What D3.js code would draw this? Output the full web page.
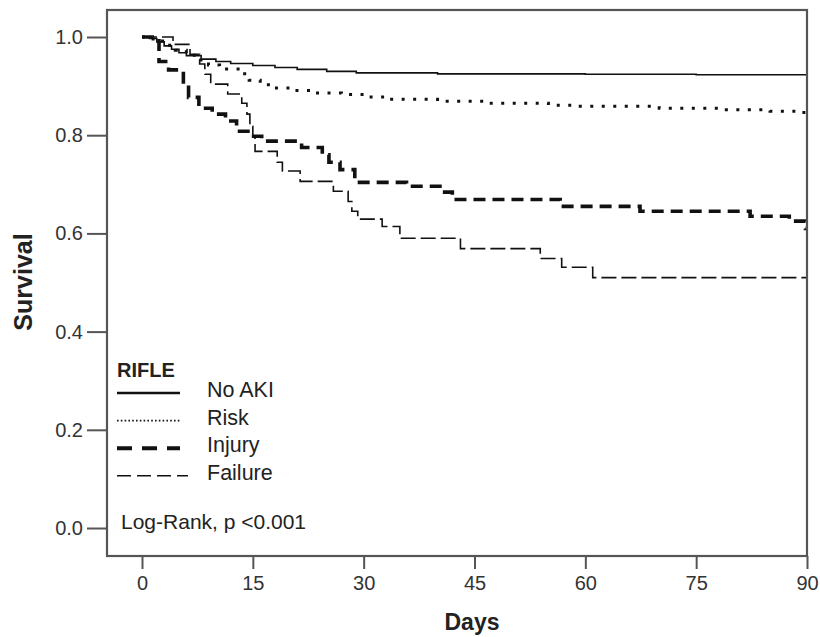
<!DOCTYPE html>
<html>
<head>
<meta charset="utf-8">
<script src="https://cdn.jsdelivr.net/npm/d3@7"></script>
<style>
  body { margin: 0; background: #fff; }
  svg text { font-family: "Liberation Sans", Arial, sans-serif; }
</style>
</head>
<body>
<div id="chart"></div>
<script>
// Kaplan-Meier steps (day, survival)
var noAkiDays = [0, 1, 2, 3, 4, 5, 6, 8, 10, 12, 15, 18, 21, 25, 29, 40, 60, 75, 90];
var noAkiSurv = [1.0, 0.997, 0.99, 0.982, 0.975, 0.968, 0.962, 0.955, 0.95, 0.946, 0.942, 0.938, 0.934, 0.93, 0.927, 0.925, 0.924, 0.923, 0.923];

var riskDays = [0, 1.5, 3, 4.5, 6, 7.5, 9, 10.5, 13.5, 14.5, 16, 17.5, 20, 23, 27, 30, 33, 40, 47, 55, 59, 70, 78, 85, 88.5, 90];
var riskSurv = [1.0, 0.992, 0.983, 0.973, 0.963, 0.953, 0.943, 0.935, 0.925, 0.912, 0.903, 0.896, 0.891, 0.886, 0.883, 0.878, 0.873, 0.869, 0.865, 0.861, 0.859, 0.855, 0.852, 0.849, 0.846, 0.846];

var injuryDays = [0, 2.3, 3.6, 5.6, 6.3, 7.7, 9.5, 11.3, 12.8, 14.7, 16.2, 21.6, 24.4, 25.3, 26.8, 28.8, 35.8, 40.6, 42, 56.6, 67.4, 82.3, 87.6, 89.8, 90];
var injurySurv = [1.0, 0.95, 0.933, 0.905, 0.877, 0.855, 0.843, 0.829, 0.808, 0.798, 0.788, 0.775, 0.76, 0.745, 0.73, 0.704, 0.696, 0.684, 0.669, 0.655, 0.645, 0.635, 0.625, 0.61, 0.61];

var failureDays = [0, 4.2, 6.5, 7.8, 8.5, 9.3, 11.6, 13.5, 14.2, 14.6, 15.0, 15.3, 18.3, 19.0, 21.4, 25.9, 27.9, 28.4, 29.2, 32.5, 34.9, 43.1, 53.9, 56.8, 61.0, 90];
var failureSurv = [1.0, 0.985, 0.965, 0.945, 0.924, 0.904, 0.884, 0.865, 0.843, 0.818, 0.798, 0.767, 0.745, 0.727, 0.706, 0.686, 0.665, 0.645, 0.629, 0.614, 0.59, 0.569, 0.549, 0.531, 0.51, 0.51];

var groupNames = ["No AKI", "Risk", "Injury", "Failure"];
var xTicks = [0, 15, 30, 45, 60, 75, 90];
var yTicks = [0.0, 0.2, 0.4, 0.6, 0.8, 1.0];

var width = 820, height = 637;
var plotLeft = 107, plotRight = 807, plotTop = 10, plotBottom = 556;

var svg = d3.select("#chart")
            .append("svg")
            .attr("width", width)
            .attr("height", height);

var x = d3.scaleLinear().domain([-4.737, 90]).range([plotLeft, plotRight]);
var y = d3.scaleLinear().domain([-0.057, 1.055]).range([plotBottom, plotTop]);

// line styles per group: solid, dotted, thick dash, thin dash
var styles = [
    { width: 1.6, dash: null },
    { width: 3, dash: "3,8.5" },
    { width: 3.6, dash: "12,7" },
    { width: 1.6, dash: "15,5" }
];
var legendStyles = [
    { width: 2.4, dash: null },
    { width: 1.6, dash: "1.6,2.2" },
    { width: 4, dash: "15,10" },
    { width: 1.6, dash: "14,6" }
];

var series = [
    d3.zip(noAkiDays, noAkiSurv),
    d3.zip(riskDays, riskSurv),
    d3.zip(injuryDays, injurySurv),
    d3.zip(failureDays, failureSurv)
];

var line = d3.line()
             .x(d => x(d[0]))
             .y(d => y(d[1]))
             .curve(d3.curveStepAfter);

svg.append("g")
   .selectAll("path")
   .data(series)
   .join("path")
   .attr("d", line)
   .attr("fill", "none")
   .attr("stroke", "#111")
   .attr("stroke-width", (d, i) => styles[i].width)
   .attr("stroke-dasharray", (d, i) => styles[i].dash);

// axes
var xAxis = svg.append("g")
               .attr("transform", `translate(0,${plotBottom})`)
               .call(d3.axisBottom(x).tickValues(xTicks).tickSize(13).tickPadding(7).tickFormat(d3.format("d")));
var yAxis = svg.append("g")
               .attr("transform", `translate(${plotLeft},0)`)
               .call(d3.axisLeft(y).tickValues(yTicks).tickSize(20).tickPadding(4).tickFormat(d3.format(".1f")));

[xAxis, yAxis].forEach(function(ax) {
    ax.select(".domain").remove();
    ax.selectAll(".tick line").attr("stroke", "#555").attr("stroke-width", 2);
    ax.selectAll(".tick text")
      .attr("fill", "#333")
      .style("font-size", "20px");
});

// frame
svg.append("rect")
   .attr("x", plotLeft)
   .attr("y", plotTop)
   .attr("width", plotRight - plotLeft)
   .attr("height", plotBottom - plotTop)
   .attr("fill", "none")
   .attr("stroke", "#555")
   .attr("stroke-width", 2.2);

// axis titles
svg.append("text")
   .attr("x", 472)
   .attr("y", 630)
   .attr("text-anchor", "middle")
   .style("font-size", "23px")
   .style("font-weight", "bold")
   .attr("fill", "#222")
   .text("Days");

svg.append("text")
   .attr("transform", "translate(32,282) rotate(-90)")
   .attr("text-anchor", "middle")
   .style("font-size", "25px")
   .style("font-weight", "bold")
   .attr("fill", "#222")
   .text("Survival");

// legend
var legend = svg.append("g");
legend.append("text")
      .attr("x", 117)
      .attr("y", 377)
      .style("font-size", "20px")
      .style("font-weight", "bold")
      .attr("fill", "#222")
      .text("RIFLE");

var rows = legend.selectAll("g.row")
                 .data(groupNames)
                 .join("g")
                 .attr("class", "row")
                 .attr("transform", (d, i) => `translate(0,${397 + i * 27.6})`);

rows.append("line")
    .attr("x1", 117)
    .attr("x2", (d, i) => i === 3 ? 188 : 180)
    .attr("y1", -4)
    .attr("y2", -4)
    .attr("stroke", "#111")
    .attr("stroke-width", (d, i) => legendStyles[i].width)
    .attr("stroke-dasharray", (d, i) => legendStyles[i].dash);

rows.append("text")
    .attr("x", 207)
    .attr("y", 0)
    .style("font-size", "21.5px")
    .attr("fill", "#222")
    .text(d => d);

svg.append("text")
   .attr("x", 121)
   .attr("y", 529)
   .style("font-size", "21px")
   .attr("fill", "#222")
   .text("Log-Rank, p <0.001");
</script>
</body>
</html>
